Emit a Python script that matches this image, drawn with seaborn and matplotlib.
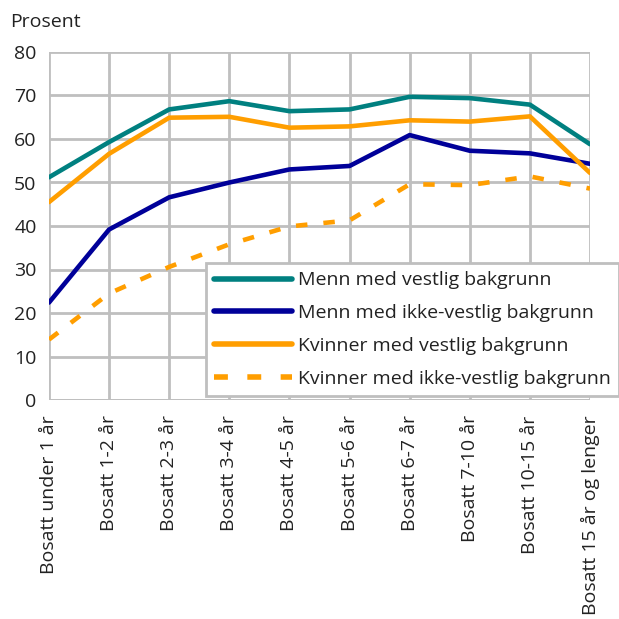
import matplotlib
matplotlib.use("Agg")
import matplotlib.pyplot as plt
import seaborn as sns
import pandas as pd

categories = ["Bosatt under 1 år", "Bosatt 1-2 år", "Bosatt 2-3 år", "Bosatt 3-4 år",
              "Bosatt 4-5 år", "Bosatt 5-6 år", "Bosatt 6-7 år", "Bosatt 7-10 år",
              "Bosatt 10-15 år", "Bosatt 15 år og lenger"]
menn_vestlig = [51.2, 59.3, 66.8, 68.7, 66.4, 66.8, 69.7, 69.4, 67.9, 58.8]
menn_ikke_vestlig = [22.4, 39.2, 46.6, 50.0, 53.0, 53.8, 60.9, 57.3, 56.7, 54.3]
kvinner_vestlig = [45.5, 56.6, 64.9, 65.1, 62.6, 62.9, 64.3, 64.0, 65.2, 52.2]
kvinner_ikke_vestlig = [13.9, 24.5, 30.6, 35.8, 39.9, 41.3, 49.6, 49.4, 51.4, 48.6]
series_names = ["Menn med vestlig bakgrunn", "Menn med ikke-vestlig bakgrunn",
                "Kvinner med vestlig bakgrunn", "Kvinner med ikke-vestlig bakgrunn"]
colors = ["#008080", "#000099", "#FF9E00", "#FF9E00"]
y_ticks = [0, 10, 20, 30, 40, 50, 60, 70, 80]

rows = []
for name, vals in zip(series_names, [menn_vestlig, menn_ikke_vestlig,
                                     kvinner_vestlig, kvinner_ikke_vestlig]):
    for i, v in enumerate(vals):
        rows.append({"pos": i, "verdi": v, "serie": name})
df = pd.DataFrame(rows)

sns.set_style("white")
plt.rcParams["font.family"] = ["Open Sans", "DejaVu Sans"]

fig = plt.figure(figsize=(6.19, 6.19), dpi=100)
ax = fig.add_axes([49 / 619, 1 - 400 / 619, (590 - 49) / 619, (400 - 52) / 619])

sns.lineplot(data=df, x="pos", y="verdi", hue="serie", style="serie",
             palette=dict(zip(series_names, colors)),
             dashes={series_names[0]: "", series_names[1]: "",
                     series_names[2]: "", series_names[3]: (2.5, 3.5)},
             linewidth=3.3, ax=ax, legend=True, zorder=3)

ax.set_xlim(0, 9)
ax.set_ylim(0, 80)
ax.set_yticks(y_ticks)
ax.set_xticks(range(len(categories)))
ax.set_xticklabels(categories, rotation=90, fontsize=14, color="#222222")
ax.set_yticklabels([str(t) for t in y_ticks], fontsize=14, color="#222222")
ax.tick_params(axis="x", length=7, width=2, color="#BFBFBF", pad=4)
ax.tick_params(axis="y", length=6, width=2, color="#BFBFBF", pad=3)
ax.grid(True, color="#BFBFBF", linewidth=2)
ax.set_axisbelow(True)
for s in ax.spines.values():
    s.set_visible(False)
ax.axhline(0, color="#BFBFBF", linewidth=2, zorder=1)
ax.set_xlabel("")
ax.set_ylabel("")

fig.text(10 / 619, 1 - 22 / 619, "Prosent", fontsize=14, color="#222222", va="center")

handles, labels = ax.get_legend_handles_labels()
leg = ax.legend(handles, labels, loc="lower left",
                bbox_to_anchor=(206 / 619, 1 - 396 / 619),
                bbox_transform=fig.transFigure,
                fontsize=14, frameon=True, fancybox=False, framealpha=1,
                handlelength=4.0, handletextpad=0.3, labelspacing=0.76,
                borderpad=0.43, borderaxespad=0)
leg.get_frame().set_edgecolor("#BFBFBF")
leg.get_frame().set_linewidth(2)
for line in leg.get_lines():
    line.set_linewidth(4)
for t in leg.get_texts():
    t.set_color("#222222")
leg.set_zorder(5)

fig.savefig("out.png", dpi=100)
